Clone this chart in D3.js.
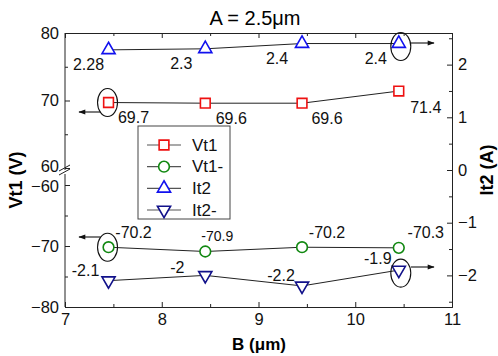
<!DOCTYPE html>
<html>
<head>
<meta charset="utf-8">
<script src="https://cdn.jsdelivr.net/npm/d3@7"></script>
<style>
  body { margin: 0; background: #fff; }
  text { font-family: "Liberation Sans", Arial, sans-serif; }
</style>
</head>
<body>
<div id="chart"></div>
<script>
// data
var B = [7.45, 8.45, 9.45, 10.45];
var vt1 = [69.7, 69.6, 69.6, 71.4];
var vt1Neg = [-70.2, -70.9, -70.2, -70.3];
var it2 = [2.28, 2.3, 2.4, 2.4];
var it2Neg = [-2.1, -2, -2.2, -1.9];
var vt1Labels = ["69.7", "69.6", "69.6", "71.4"];
var vt1NegLabels = ["-70.2", "-70.9", "-70.2", "-70.3"];
var it2Labels = ["2.28", "2.3", "2.4", "2.4"];
var it2NegLabels = ["-2.1", "-2", "-2.2", "-1.9"];
var legendNames = ["Vt1", "Vt1-", "It2", "It2-"];

var svgWidth = 498, svgHeight = 356;
var L = 65, R = 452, T = 33, Bt = 307;

var svg = d3.select("#chart").append("svg")
    .attr("width", svgWidth)
    .attr("height", svgHeight);

// scales
var x = d3.scaleLinear().domain([7, 11]).range([L, R]);
var yTop = d3.scaleLinear().domain([60, 80]).range([168, T]);     // upper part of broken axis
var yBot = d3.scaleLinear().domain([-80, -60]).range([Bt, 185]);  // lower part
var yR = d3.scaleLinear().domain([-2.6, 2.6]).range([Bt, T]);

function styleAxis(g) {
    g.selectAll("text").attr("font-size", 16.5).attr("fill", "#111")
        .attr("font-family", "Liberation Sans, Arial, sans-serif");
    g.selectAll("line").attr("stroke", "#222");
    g.select(".domain").attr("stroke", "#222");
}

// bottom axis
svg.append("g").attr("transform", `translate(0,${Bt})`)
    .call(d3.axisBottom(x).tickValues([7, 8, 9, 10, 11]).tickFormat(d3.format("d"))
        .tickSizeInner(-5).tickSizeOuter(0).tickPadding(6))
    .call(styleAxis);
svg.append("g").attr("transform", `translate(0,${Bt})`)
    .call(d3.axisBottom(x).tickValues([7.5, 8.5, 9.5, 10.5]).tickFormat("")
        .tickSizeInner(-3).tickSizeOuter(0))
    .call(styleAxis);
// top axis (ticks only)
svg.append("g").attr("transform", `translate(0,${T})`)
    .call(d3.axisTop(x).tickValues([7, 8, 9, 10, 11]).tickFormat("")
        .tickSizeInner(-5).tickSizeOuter(0))
    .call(styleAxis);
svg.append("g").attr("transform", `translate(0,${T})`)
    .call(d3.axisTop(x).tickValues([7.5, 8.5, 9.5, 10.5]).tickFormat("")
        .tickSizeInner(-3).tickSizeOuter(0))
    .call(styleAxis);

// left axis, upper segment
svg.append("g").attr("transform", `translate(${L},0)`)
    .call(d3.axisLeft(yTop).tickValues([60, 70, 80]).tickSizeInner(-5).tickSizeOuter(0).tickPadding(6))
    .call(styleAxis)
    .call(g => g.select(".domain").remove())
    .call(g => g.selectAll(".tick text").filter(d => d === 60).attr("y", -1.5));
svg.append("g").attr("transform", `translate(${L},0)`)
    .call(d3.axisLeft(yTop).tickValues([65, 75]).tickFormat("").tickSizeInner(-3).tickSizeOuter(0))
    .call(styleAxis)
    .call(g => g.select(".domain").remove());
// left axis, lower segment
svg.append("g").attr("transform", `translate(${L},0)`)
    .call(d3.axisLeft(yBot).tickValues([-80, -70, -60]).tickSizeInner(-5).tickSizeOuter(0).tickPadding(6))
    .call(styleAxis)
    .call(g => g.select(".domain").remove())
    .call(g => g.selectAll(".tick text").filter(d => d === -60).attr("y", 1.5));
svg.append("g").attr("transform", `translate(${L},0)`)
    .call(d3.axisLeft(yBot).tickValues([-75, -65]).tickFormat("").tickSizeInner(-3).tickSizeOuter(0))
    .call(styleAxis)
    .call(g => g.select(".domain").remove());
// left axis line with break
svg.append("line").attr("x1", L).attr("x2", L).attr("y1", T).attr("y2", 170).attr("stroke", "#222");
svg.append("line").attr("x1", L).attr("x2", L).attr("y1", 174).attr("y2", Bt).attr("stroke", "#222");
[0, 4].forEach(function (o) {
    svg.append("line")
        .attr("x1", L - 6).attr("y1", 171 + o)
        .attr("x2", L + 5).attr("y2", 165 + o)
        .attr("stroke", "#222");
});

// right axis
svg.append("g").attr("transform", `translate(${R},0)`)
    .call(d3.axisRight(yR).tickValues([-2, -1, 0, 1, 2]).tickFormat(d3.format("d"))
        .tickSizeInner(-5).tickSizeOuter(0).tickPadding(6))
    .call(styleAxis);
svg.append("g").attr("transform", `translate(${R},0)`)
    .call(d3.axisRight(yR).tickValues([-2.5, -1.5, -0.5, 0.5, 1.5, 2.5]).tickFormat("").tickSizeInner(-3).tickSizeOuter(0))
    .call(styleAxis);

// titles
svg.append("text").attr("x", 255).attr("y", 25).attr("text-anchor", "middle")
    .attr("font-size", 20).text("A = 2.5\u03bcm");
svg.append("text").attr("transform", "translate(22,180) rotate(-90)")
    .attr("text-anchor", "middle").attr("font-size", 18).attr("font-weight", "bold")
    .text("Vt1 (V)");
svg.append("text").attr("transform", "translate(493,170) rotate(-90)")
    .attr("text-anchor", "middle").attr("font-size", 18).attr("font-weight", "bold")
    .text("It2 (A)");
svg.append("text").attr("x", 259).attr("y", 350).attr("text-anchor", "middle")
    .attr("font-size", 17).attr("font-weight", "bold").text("B (\u03bcm)");

// series
var series = [
    { vals: vt1, labels: vt1Labels, y: yTop, sym: d3.symbolSquare, size: 95, rot: 0, color: "#ee1111",
      off: [[25, 15], [26, 15], [25, 15], [27, 16]], fs: [16, 16, 16, 16] },
    { vals: vt1Neg, labels: vt1NegLabels, y: yBot, sym: d3.symbolCircle, size: 90, rot: 0, color: "#118811",
      off: [[25, -15], [12, -15], [25, -15], [27, -15]], fs: [16, 14, 16, 16] },
    { vals: it2, labels: it2Labels, y: yR, sym: d3.symbolTriangle, size: 75, rot: 0, color: "#1111ee",
      off: [[-20, 15], [-24, 15], [-25, 15], [-23, 15]], fs: [16, 16, 16, 16] },
    { vals: it2Neg, labels: it2NegLabels, y: yR, sym: d3.symbolTriangle, size: 75, rot: 180, color: "#11118a",
      off: [[-23, -10], [-28, -8], [-21, -10], [-21, -12]], fs: [16, 16, 16, 16] }
];

var line = d3.line();
series.forEach(function (s) {
    var pts = B.map((b, i) => [x(b), s.y(s.vals[i])]);
    svg.append("path").attr("d", line(pts)).attr("fill", "none")
        .attr("stroke", "#222").attr("stroke-width", 1);
    svg.selectAll(null).data(pts).enter().append("path")
        .attr("transform", d => `translate(${d[0]},${d[1]}) rotate(${s.rot})`)
        .attr("d", d3.symbol().type(s.sym).size(s.size))
        .attr("fill", "#fff").attr("stroke", s.color).attr("stroke-width", 1.6);
    svg.selectAll(null).data(pts).enter().append("text")
        .attr("x", (d, i) => d[0] + s.off[i][0])
        .attr("y", (d, i) => d[1] + s.off[i][1])
        .attr("text-anchor", "middle").attr("dominant-baseline", "central")
        .attr("font-size", (d, i) => s.fs[i]).attr("fill", "#111")
        .text((d, i) => s.labels[i]);
});

// ellipses and arrows pointing to the axis each series belongs to
svg.append("defs").append("marker").attr("id", "arr")
    .attr("viewBox", "0 0 10 10").attr("refX", 9).attr("refY", 5)
    .attr("markerWidth", 9).attr("markerHeight", 7).attr("orient", "auto-start-reverse")
    .attr("markerUnits", "userSpaceOnUse")
    .append("path").attr("d", "M0,1.5 L10,5 L0,8.5 Z").attr("fill", "#111");

var notes = [
    { i: 0, y: yTop, v: vt1, ry: 14, dir: -1, ay: 112 },
    { i: 3, y: yR, v: it2, ry: 14, dir: 1, ay: 43 },
    { i: 0, y: yBot, v: vt1Neg, ry: 14, dir: -1, ay: 237 },
    { i: 3, y: yR, v: it2Neg, ry: 14, dir: 1, ay: 267 }
];
notes.forEach(function (n) {
    var cx = x(B[n.i]) + (n.dir > 0 ? 2 : -1), cy = n.y(n.v[n.i]) + (n.dir > 0 ? 3 : 0);
    svg.append("ellipse").attr("cx", cx).attr("cy", cy).attr("rx", 10).attr("ry", n.ry)
        .attr("fill", "none").attr("stroke", "#111").attr("stroke-width", 1.1);
    var x1 = n.dir > 0 ? cx + 10 : cx - 7;
    var x2 = n.dir > 0 ? 434 : 79;
    svg.append("line").attr("x1", x1).attr("x2", x2).attr("y1", n.ay).attr("y2", n.ay)
        .attr("stroke", "#111").attr("stroke-width", 1.1).attr("marker-end", "url(#arr)");
});

// legend
var lg = svg.append("g");
lg.append("rect").attr("x", 138).attr("y", 126).attr("width", 92).attr("height", 93)
    .attr("fill", "#fff").attr("stroke", "#444").attr("stroke-width", 1);
var ly = d3.scalePoint().domain(legendNames).range([145, 210]);
series.forEach(function (s, i) {
    var yy = ly(legendNames[i]);
    lg.append("line").attr("x1", 147).attr("x2", 181).attr("y1", yy).attr("y2", yy)
        .attr("stroke", "#555").attr("stroke-width", 1.2);
    lg.append("path").attr("transform", `translate(164,${yy}) rotate(${s.rot})`)
        .attr("d", d3.symbol().type(s.sym).size(s.size))
        .attr("fill", "#fff").attr("stroke", s.color).attr("stroke-width", 1.6);
    lg.append("text").attr("x", 192).attr("y", yy).attr("dominant-baseline", "central")
        .attr("font-size", 17).attr("fill", "#111").text(legendNames[i]);
});
</script>
</body>
</html>
